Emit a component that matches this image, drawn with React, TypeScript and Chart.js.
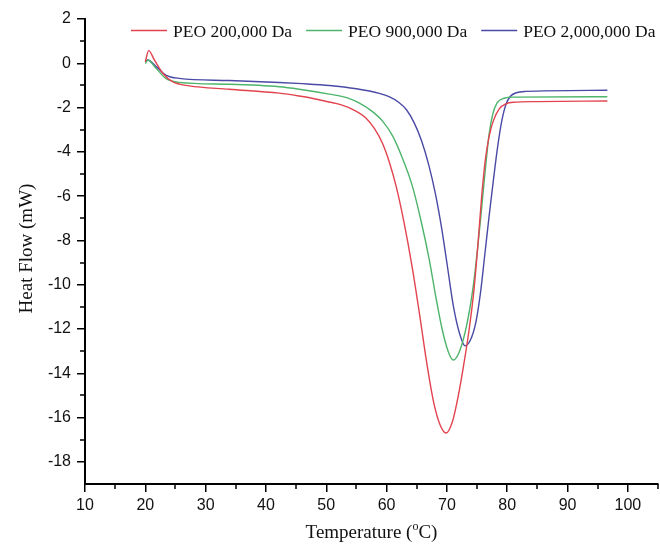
import React, { useEffect, useRef } from "react";
import { Chart, registerables } from "chart.js";

Chart.register(...registerables);

// ---- data ----
const seriesLabels = ["PEO 200,000 Da", "PEO 900,000 Da", "PEO 2,000,000 Da"];
const seriesColors = ["#e2434f", "#4db46a", "#4a4aa6"];

const temp200 = [20.0, 20.56, 21.5, 22.9, 24.5, 27.3, 33.9, 42.2, 45.5, 48.0, 50.5, 52.5, 54.5, 56.6, 58.0, 59.3, 60.5, 61.6, 62.9, 64.3, 65.5, 66.7, 67.8, 68.9, 69.85, 70.9, 71.9, 72.8, 73.7, 74.5, 75.2, 75.8, 76.4, 77.0, 77.7, 78.7, 79.8, 81.0, 85.0, 96.6];
const flow200 = [0.07, 0.57, 0.15, -0.45, -0.83, -1.02, -1.17, -1.35, -1.48, -1.6, -1.75, -1.88, -2.1, -2.48, -2.95, -3.6, -4.5, -5.57, -7.2, -9.3, -11.4, -13.6, -15.3, -16.35, -16.7, -16.2, -15.0, -13.6, -12.0, -10.2, -8.0, -5.9, -4.3, -3.3, -2.6, -2.05, -1.83, -1.76, -1.73, -1.7];

const temp900 = [20.0, 20.4, 21.8, 23.4, 25.6, 33.9, 42.2, 45.5, 50.5, 53.5, 55.5, 57.5, 59.3, 61.0, 62.5, 64.3, 65.7, 67.1, 68.2, 69.2, 70.2, 71.05, 72.1, 73.3, 74.3, 75.0, 75.6, 76.3, 77.0, 77.6, 78.3, 79.5, 81.0, 96.6];
const flow900 = [-0.02, 0.15, -0.23, -0.68, -0.86, -0.95, -1.06, -1.17, -1.39, -1.56, -1.8, -2.15, -2.6, -3.28, -4.2, -5.57, -7.1, -8.9, -10.6, -12.0, -13.0, -13.4, -13.0, -11.8, -10.2, -8.6, -7.0, -5.0, -3.2, -2.3, -1.8, -1.58, -1.53, -1.51];

const temp2000 = [20.0, 20.4, 21.8, 23.4, 25.6, 33.9, 42.2, 46.0, 50.5, 55.0, 58.8, 60.5, 62.0, 63.3, 64.6, 65.8, 67.0, 68.1, 69.1, 70.1, 71.1, 72.1, 73.0, 73.9, 74.8, 75.6, 76.3, 77.0, 77.7, 78.4, 79.1, 79.8, 80.5, 81.5, 83.0, 96.6];
const flow2000 = [0.07, 0.15, -0.15, -0.53, -0.68, -0.78, -0.87, -0.92, -1.0, -1.15, -1.36, -1.52, -1.76, -2.1, -2.7, -3.5, -4.6, -5.9, -7.4, -9.2, -11.0, -12.2, -12.76, -12.5, -11.7, -10.3, -8.6, -6.9, -5.3, -3.8, -2.6, -1.85, -1.5, -1.33, -1.27, -1.22];

const xTickValues = [10, 20, 30, 40, 50, 60, 70, 80, 90, 100];
const xMinorValues = [15, 25, 35, 45, 55, 65, 75, 85, 95, 105];
const yTickValues = [-18, -16, -14, -12, -10, -8, -6, -4, -2, 0, 2];
const yMinorValues = [-17, -15, -13, -11, -9, -7, -5, -3, -1, 1];

const xTitle = ["Temperature (", "o", "C)"];
const yTitle = "Heat Flow (mW)";

const temps = [temp200, temp900, temp2000];
const flows = [flow200, flow900, flow2000];

const SERIF = "'Liberation Serif', 'Times New Roman', serif";
const SANS = "'Liberation Sans', Arial, sans-serif";

const decorPlugin = {
  id: "decor",
  afterDraw(chart: any) {
    const ctx = chart.ctx;
    const area = chart.chartArea;
    const xs = chart.scales.x;
    const ys = chart.scales.y;
    ctx.save();
    // minor ticks
    ctx.strokeStyle = "#000";
    ctx.lineWidth = 1.5;
    ctx.beginPath();
    xMinorValues.forEach((v) => {
      const px = Math.round(xs.getPixelForValue(v));
      ctx.moveTo(px, area.bottom);
      ctx.lineTo(px, area.bottom + 5);
    });
    yMinorValues.forEach((v) => {
      const py = Math.round(ys.getPixelForValue(v));
      ctx.moveTo(area.left - 5, py);
      ctx.lineTo(area.left, py);
    });
    ctx.stroke();

    // x title with superscript
    ctx.fillStyle = "#111";
    ctx.textBaseline = "alphabetic";
    ctx.font = `19px ${SERIF}`;
    const w1 = ctx.measureText(xTitle[0]).width;
    const w3 = ctx.measureText(xTitle[2]).width;
    ctx.font = `12px ${SERIF}`;
    const w2 = ctx.measureText(xTitle[1]).width;
    const total = w1 + w2 + w3;
    let cx = (area.left + area.right) / 2 - total / 2;
    const base = 538;
    ctx.font = `19px ${SERIF}`;
    ctx.textAlign = "left";
    ctx.fillText(xTitle[0], cx, base);
    cx += w1;
    ctx.font = `12px ${SERIF}`;
    ctx.fillText(xTitle[1], cx, base - 8);
    cx += w2;
    ctx.font = `19px ${SERIF}`;
    ctx.fillText(xTitle[2], cx, base);

    // y title
    ctx.save();
    ctx.translate(27, (area.top + area.bottom) / 2 - 3);
    ctx.rotate(-Math.PI / 2);
    ctx.textAlign = "center";
    ctx.textBaseline = "middle";
    ctx.font = `19px ${SERIF}`;
    ctx.fillText(yTitle, 0, 0);
    ctx.restore();

    // legend
    ctx.font = `17.5px ${SERIF}`;
    ctx.textAlign = "left";
    ctx.textBaseline = "alphabetic";
    let lx = 131;
    chart.data.datasets.forEach((ds: any) => {
      ctx.strokeStyle = ds.borderColor;
      ctx.lineWidth = 1.3;
      ctx.beginPath();
      ctx.moveTo(lx, 30.5);
      ctx.lineTo(lx + 36, 30.5);
      ctx.stroke();
      ctx.fillStyle = "#111";
      ctx.fillText(ds.label, lx + 42, 37);
      lx += 42 + ctx.measureText(ds.label).width + 14;
    });
    ctx.restore();
  },
};

export default function App() {
  const ref = useRef<HTMLCanvasElement>(null);
  useEffect(() => {
    if (!ref.current) return;
    const datasets = seriesLabels.map((label, i) => ({
      label,
      data: temps[i].map((t, j) => ({ x: t, y: flows[i][j] })),
      borderColor: seriesColors[i],
      backgroundColor: seriesColors[i],
      borderWidth: 1.4,
      pointRadius: 0,
      cubicInterpolationMode: "monotone" as const,
      fill: false,
    }));
    const tickFont = { family: SANS, size: 16 };
    const chart = new Chart(ref.current, {
      type: "line",
      data: { datasets },
      options: {
        animation: false,
        responsive: false,
        maintainAspectRatio: false,
        layout: { padding: { top: 19, right: 2, left: 0, bottom: 0 } },
        plugins: { legend: { display: false }, tooltip: { enabled: false } },
        scales: {
          x: {
            type: "linear",
            position: "bottom",
            min: 10,
            max: 105,
            afterBuildTicks: (s: any) => {
              s.ticks = xTickValues.map((v) => ({ value: v }));
            },
            afterFit: (s: any) => {
              s.height = 60;
            },
            ticks: { font: tickFont, color: "#111", padding: 4, maxRotation: 0, autoSkip: false },
            grid: { drawOnChartArea: false, drawTicks: true, tickLength: 8, color: "#000", lineWidth: 1.5 },
            border: { display: true, color: "#000", width: 2 },
          },
          y: {
            type: "linear",
            min: -19,
            max: 2,
            afterBuildTicks: (s: any) => {
              s.ticks = yTickValues.map((v) => ({ value: v }));
            },
            afterFit: (s: any) => {
              s.width = 85;
            },
            ticks: { font: tickFont, color: "#111", padding: 6, autoSkip: false },
            grid: { drawOnChartArea: false, drawTicks: true, tickLength: 8, color: "#000", lineWidth: 1.5 },
            border: { display: true, color: "#000", width: 2 },
          },
        },
      },
      plugins: [decorPlugin],
    });
    return () => chart.destroy();
  }, []);
  return (
    <div style={{ position: "absolute", left: 0, top: 0, width: 660, height: 544, background: "#fff" }}>
      <canvas ref={ref} width={660} height={544} style={{ width: 660, height: 544, display: "block" }} />
    </div>
  );
}
